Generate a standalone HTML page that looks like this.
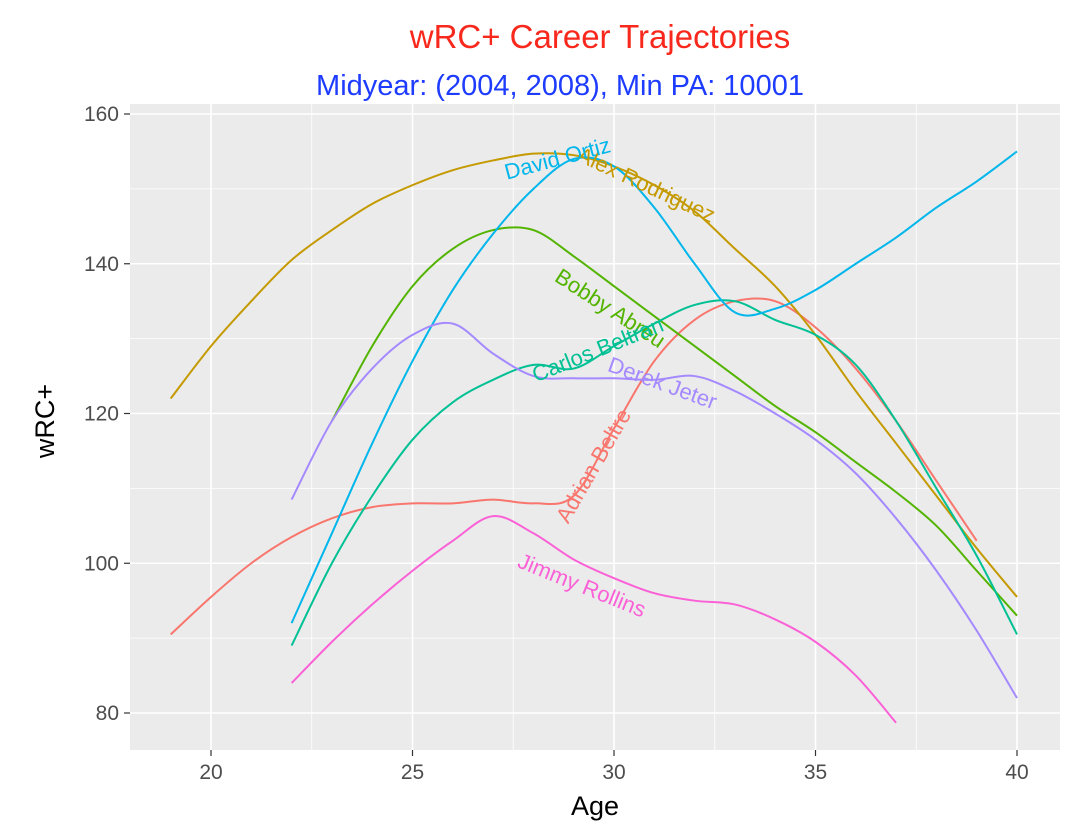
<!DOCTYPE html>
<html><head><meta charset="utf-8"><style>
body{margin:0;background:#fff;}
svg text{font-family:"Liberation Sans",sans-serif;}
</style></head><body>
<svg id="chart" width="1080" height="830">
<rect x="130" y="104" width="930" height="646" fill="#EBEBEB"/>
<text x="600" y="48" text-anchor="middle" font-size="33" fill="#F8281C">wRC+ Career Trajectories</text>
<text x="560" y="95" text-anchor="middle" font-size="29" fill="#1E3CFF">Midyear: (2004, 2008), Min PA: 10001</text>
<g id="grid"></g><g id="lines"></g><g id="labels"></g><g id="ticks"></g>
<text x="595" y="815" text-anchor="middle" font-size="27" fill="#000">Age</text>
<text transform="translate(54,421) rotate(-90)" text-anchor="middle" font-size="27" fill="#000">wRC+</text>
</svg>
<script>
const xTicks=[20,25,30,35,40];
const yTicks=[80,100,120,140,160];
const players=["Adrian Beltre","Alex Rodriguez","Bobby Abreu","Carlos Beltran","David Ortiz","Derek Jeter","Jimmy Rollins"];
const colors=["#F8766D","#C49A00","#53B400","#00C094","#00B6EB","#A58AFF","#FB61D7"];
const beltreAges=[19,20,21,22,23,24,25,26,27,28,29,30,31,32,33,34,35,36,37,38,39];
const beltreVals=[90.5,95.5,100,103.5,106,107.5,108,108,108.5,108,109,118,127,132.5,135,135,131.5,126,119,111,103];
const arodAges=[19,20,21,22,23,24,25,26,27,28,29,30,31,32,33,34,35,36,37,38,39,40];
const arodVals=[122,129,135,140.5,144.5,148,150.5,152.5,153.8,154.7,154.5,153,150.5,147,142,137,130.5,123,116,109,102,95.5];
const abreuAges=[23,24,25,26,27,28,29,30,31,32,33,34,35,36,37,38,39,40];
const abreuVals=[119,129,137,142,144.5,144.5,141,137,133,129,125,121,117.5,113.5,109.5,105,99,93];
const beltranAges=[22,23,24,25,26,27,28,29,30,31,32,33,34,35,36,37,38,39,40];
const beltranVals=[89,100,109,116.5,121.5,124.5,126.5,126,129,132,134.5,135,132.5,130.5,126.5,119,110,101,90.5];
const ortizAges=[22,23,24,25,26,27,28,29,30,31,32,33,34,35,36,37,38,39,40];
const ortizVals=[92,104,116,127,136.5,144,150,154,153,147.5,140,133.5,134,136.5,140,143.5,147.5,151,155];
const jeterAges=[22,23,24,25,26,27,28,29,30,31,32,33,34,35,36,37,38,39,40];
const jeterVals=[108.5,119,126,130.5,132,128,125,124.7,124.7,124.5,125,123,120,116.5,112,106,99,91,82];
const rollinsAges=[22,23,24,25,26,27,28,29,30,31,32,33,34,35,36,37];
const rollinsVals=[84,89.5,94.5,99,103,106.3,104,100.5,98,96,95,94.5,92.5,89.5,85,78.7];
const seriesAges=[beltreAges,arodAges,abreuAges,beltranAges,ortizAges,jeterAges,rollinsAges];
const seriesVals=[beltreVals,arodVals,abreuVals,beltranVals,ortizVals,jeterVals,rollinsVals];
const labelAge=[29.5,30.8,29.9,29.6,28.6,31.2,29.2];
const labelVal=[113,150.5,134,128.5,154,124,97];
const labelRot=[-60,25,33,-22,-15,20,22];

const X=a=>211+(a-20)*40.3;
const Y=v=>114+(160-v)*7.4875;
const ns="http://www.w3.org/2000/svg";
function mk(tag,attrs,parent){const e=document.createElementNS(ns,tag);for(const k in attrs)e.setAttribute(k,attrs[k]);parent.appendChild(e);return e;}
const grid=document.getElementById('grid'),lines=document.getElementById('lines'),labels=document.getElementById('labels'),ticks=document.getElementById('ticks');
for(let i=0;i<xTicks.length-1;i++){const a=(xTicks[i]+xTicks[i+1])/2;
 const l=mk('line',{x1:X(a),x2:X(a),y1:104,y2:750,stroke:'#fff','stroke-width':0.8},grid);
 
 }
for(let i=0;i<yTicks.length-1;i++){const v=(yTicks[i]+yTicks[i+1])/2;
 const l=mk('line',{x1:130,x2:1060,y1:Y(v),y2:Y(v),stroke:'#fff','stroke-width':0.8},grid);
 
 }
xTicks.forEach(t=>{
 const l=mk('line',{x1:X(t),x2:X(t),y1:104,y2:750,stroke:'#fff','stroke-width':1.6},grid);
 
 
 mk('line',{x1:X(t),x2:X(t),y1:750,y2:756,stroke:'#333','stroke-width':1.2},ticks);
 const tx=mk('text',{x:X(t),y:779,'text-anchor':'middle','font-size':21,fill:'#4d4d4d'},ticks);tx.textContent=t;
 
 });
yTicks.forEach(t=>{
 const l=mk('line',{x1:130,x2:1060,y1:Y(t),y2:Y(t),stroke:'#fff','stroke-width':1.6},grid);
 
 
 mk('line',{x1:124,x2:130,y1:Y(t),y2:Y(t),stroke:'#333','stroke-width':1.2},ticks);
 const tx=mk('text',{x:119,y:Y(t)+7,'text-anchor':'end','font-size':21,fill:'#4d4d4d'},ticks);tx.textContent=t;
 
 });
function smooth(pts){let d='M'+pts[0][0]+','+pts[0][1];
 for(let i=0;i<pts.length-1;i++){const p0=pts[i-1]||pts[i],p1=pts[i],p2=pts[i+1],p3=pts[i+2]||p2;
  d+=' C'+(p1[0]+(p2[0]-p0[0])/6)+','+(p1[1]+(p2[1]-p0[1])/6)+' '+(p2[0]-(p3[0]-p1[0])/6)+','+(p2[1]-(p3[1]-p1[1])/6)+' '+p2[0]+','+p2[1];}
 return d;}
players.forEach((p,i)=>{
 const pts=seriesAges[i].map((a,j)=>[X(a),Y(seriesVals[i][j])]);
 const path=mk('path',{d:smooth(pts),fill:'none',stroke:colors[i],'stroke-width':2},lines);
 
 
 const cx=X(labelAge[i]),cy=Y(labelVal[i]);
 const t=mk('text',{x:cx,y:cy+7,'text-anchor':'middle','font-size':22,fill:colors[i],transform:'rotate('+labelRot[i]+' '+cx+' '+cy+')'},labels);
 t.textContent=p;
 
 
});
</script>
</body></html>
